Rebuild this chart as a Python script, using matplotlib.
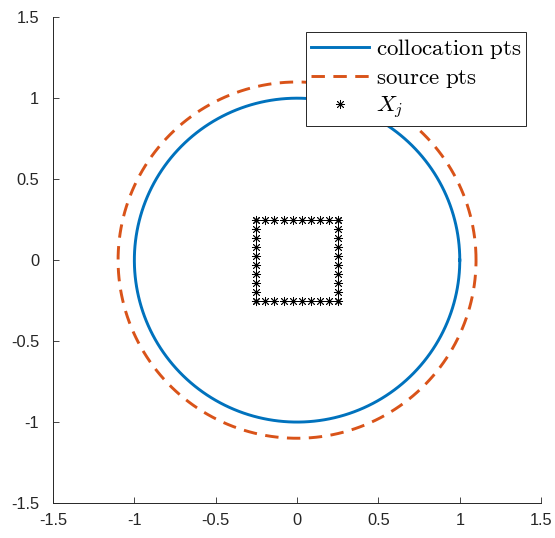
import numpy as np
import matplotlib
matplotlib.use("Agg")
import matplotlib.pyplot as plt

# radii of the two circles and half-width of the square of centres
R_COLLOC = 1.0
R_SOURCE = 1.1
HALF_SQ = 0.25
N_SIDE = 10

TICKS = [-1.5, -1, -0.5, 0, 0.5, 1, 1.5]
TICK_LABELS = ["-1.5", "-1", "-0.5", "0", "0.5", "1", "1.5"]

plt.rcParams["font.family"] = ["Liberation Sans", "DejaVu Sans"]
plt.rcParams["mathtext.fontset"] = "cm"

t = np.linspace(0, 2 * np.pi, 400)
s = np.linspace(-HALF_SQ, HALF_SQ, N_SIDE)
xs = np.concatenate([s, s, np.full(N_SIDE, -HALF_SQ), np.full(N_SIDE, HALF_SQ)])
ys = np.concatenate([np.full(N_SIDE, HALF_SQ), np.full(N_SIDE, -HALF_SQ), s, s])

fig = plt.figure(figsize=(5.55, 5.38), dpi=100)
ax = fig.add_axes([0.0955, 0.065, 0.8795, 0.903])

ax.plot(R_COLLOC * np.cos(t), R_COLLOC * np.sin(t), color="#0072BD", lw=2.1,
        label=r"$\mathrm{collocation\ pts}$")
ax.plot(R_SOURCE * np.cos(t), R_SOURCE * np.sin(t), color="#D95319", lw=2.1,
        ls=(0, (4.6, 2.9)), label=r"$\mathrm{source\ pts}$")
ax.plot(xs, ys, ls="none", marker=(8, 2, 0), ms=6.5, color="black", mew=0.6,
        label=r"$X_j$")

ax.set_xlim(-1.5, 1.5)
ax.set_ylim(-1.5, 1.5)
ax.set_xticks(TICKS)
ax.set_xticklabels(TICK_LABELS)
ax.set_yticks(TICKS)
ax.set_yticklabels(TICK_LABELS)
ax.tick_params(direction="in", length=4, width=0.6, labelsize=11.8, colors="#262626")
ax.tick_params(axis="x", pad=7)
ax.tick_params(axis="y", pad=10)
for side in ["top", "right"]:
    ax.spines[side].set_visible(False)
for side in ["left", "bottom"]:
    ax.spines[side].set_linewidth(0.7)
    ax.spines[side].set_color("#262626")

leg = ax.legend(loc="upper right", bbox_to_anchor=(0.969, 0.969), borderaxespad=0,
                fontsize=16.5, fancybox=False, framealpha=1, edgecolor="#262626",
                handlelength=2.5, handletextpad=0.3, labelspacing=0.2,
                borderpad=0.22)
leg.get_frame().set_linewidth(0.7)

plt.savefig("out.png", dpi=100)
